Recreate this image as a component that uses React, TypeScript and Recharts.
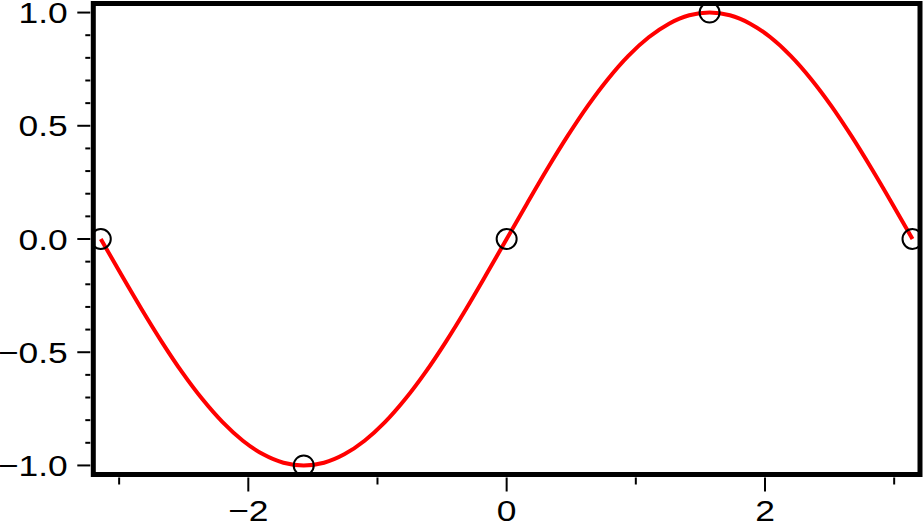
import { useEffect, useState } from 'react';
import { ComposedChart, Line, Scatter, XAxis, YAxis, ReferenceArea } from 'recharts';

// curve
const curveX = [
  -3.142, -2.985, -2.827, -2.670, -2.513, -2.356, -2.199, -2.042, -1.885, -1.728,
  -1.571, -1.414, -1.257, -1.100, -0.942, -0.785, -0.628, -0.471, -0.314, -0.157,
  0, 0.157, 0.314, 0.471, 0.628, 0.785, 0.942, 1.100, 1.257, 1.414,
  1.571, 1.728, 1.885, 2.042, 2.199, 2.356, 2.513, 2.670, 2.827, 2.985, 3.142,
];
const curveY = [
  0, -0.156, -0.309, -0.454, -0.588, -0.707, -0.809, -0.891, -0.951, -0.988,
  -1.0, -0.988, -0.951, -0.891, -0.809, -0.707, -0.588, -0.454, -0.309, -0.156,
  0, 0.156, 0.309, 0.454, 0.588, 0.707, 0.809, 0.891, 0.951, 0.988,
  1.0, 0.988, 0.951, 0.891, 0.809, 0.707, 0.588, 0.454, 0.309, 0.156, 0,
];

// open circle markers
const markerX = [-3.142, -1.571, 0, 1.571, 3.142];
const markerY = [0, -1, 0, 1, 0];

const xTicks = [-3, -2, -1, 0, 1, 2, 3];
const yTicks = [
  -1.0, -0.9, -0.8, -0.7, -0.6, -0.5, -0.4, -0.3, -0.2, -0.1,
  0, 0.1, 0.2, 0.3, 0.4, 0.5, 0.6, 0.7, 0.8, 0.9, 1.0,
];

const X_DOMAIN: [number, number] = [-3.2, 3.2];
const Y_DOMAIN: [number, number] = [-1.04, 1.04];

const curveData = curveX.map((x, i) => ({ x, y: curveY[i] }));
const markerData = markerX.map((x, i) => ({ x, y: markerY[i] }));

const FONT = '"Liberation Sans", Arial, Helvetica, sans-serif';
// the reference's Helvetica is drawn a bit wider than Liberation Sans
const STRETCH = 1.18;

const minus = (s: string) => s.replace('-', '\u2212');

function Label({ x, y, anchor, children }: any) {
  return (
    <text
      transform={`translate(${x},${y}) scale(${STRETCH},1)`}
      x={0}
      y={0}
      textAnchor={anchor}
      fill="#000"
      style={{ fontSize: '30px', fontFamily: FONT }}
    >
      {children}
    </text>
  );
}

function XTick(props: any) {
  const { x, y, payload } = props;
  const v = payload.value as number;
  const major = Math.round(v) % 2 === 0;
  return (
    <g>
      <line x1={x} x2={x} y1={y + 3} y2={y + (major ? 17 : 10)} stroke="#000" strokeWidth={2} />
      {major && (
        <Label x={x} y={y + 46} anchor="middle">
          {minus(String(Math.round(v)))}
        </Label>
      )}
    </g>
  );
}

function YTick(props: any) {
  const { x, y, payload } = props;
  const v = payload.value as number;
  const major = Math.abs(Math.round(v * 10)) % 5 === 0;
  const label = Math.abs(v) < 1e-9 ? '0.0' : minus(v.toFixed(1));
  return (
    <g>
      <line x1={x - 3} x2={x - (major ? 16 : 8)} y1={y} y2={y} stroke="#000" strokeWidth={2} />
      {major && (
        <Label x={x - 25.5} y={y + 10.7} anchor="end">
          {label}
        </Label>
      )}
    </g>
  );
}

function OpenCircle(props: any) {
  const { cx, cy } = props;
  return <circle cx={cx} cy={cy} r={10} fill="none" stroke="#000" strokeWidth={2} />;
}

export default function App() {
  // redraw once fonts are settled so the labels get measured with the real face
  const [rev, setRev] = useState(0);
  useEffect(() => {
    const t = setTimeout(() => setRev(1), 50);
    return () => clearTimeout(t);
  }, []);

  return (
    <div style={{ position: 'absolute', left: 0, top: 0, width: 924, height: 527, background: '#fff' }}>
      <ComposedChart
        key={rev}
        width={924}
        height={527}
        margin={{ top: 3.5, right: 4, bottom: 2.5, left: 3.3 }}
      >
        <XAxis
          type="number"
          dataKey="x"
          domain={X_DOMAIN}
          ticks={xTicks}
          interval={0}
          allowDataOverflow
          axisLine={false}
          tickLine={false}
          tickSize={0}
          tickMargin={0}
          height={50}
          tick={XTick}
        />
        <YAxis
          type="number"
          dataKey="y"
          domain={Y_DOMAIN}
          ticks={yTicks}
          interval={0}
          allowDataOverflow
          axisLine={false}
          tickLine={false}
          tickSize={0}
          tickMargin={0}
          width={90}
          tick={YTick}
        />
        <Line
          data={curveData}
          dataKey="y"
          type="monotone"
          stroke="#ff0000"
          strokeWidth={4}
          dot={false}
          activeDot={false}
          isAnimationActive={false}
        />
        <Scatter data={markerData} dataKey="y" shape={<OpenCircle />} isAnimationActive={false} />
        <ReferenceArea
          x1={X_DOMAIN[0]}
          x2={X_DOMAIN[1]}
          y1={Y_DOMAIN[0]}
          y2={Y_DOMAIN[1]}
          fill="none"
          stroke="#000"
          strokeWidth={5}
          ifOverflow="visible"
        />
      </ComposedChart>
    </div>
  );
}
